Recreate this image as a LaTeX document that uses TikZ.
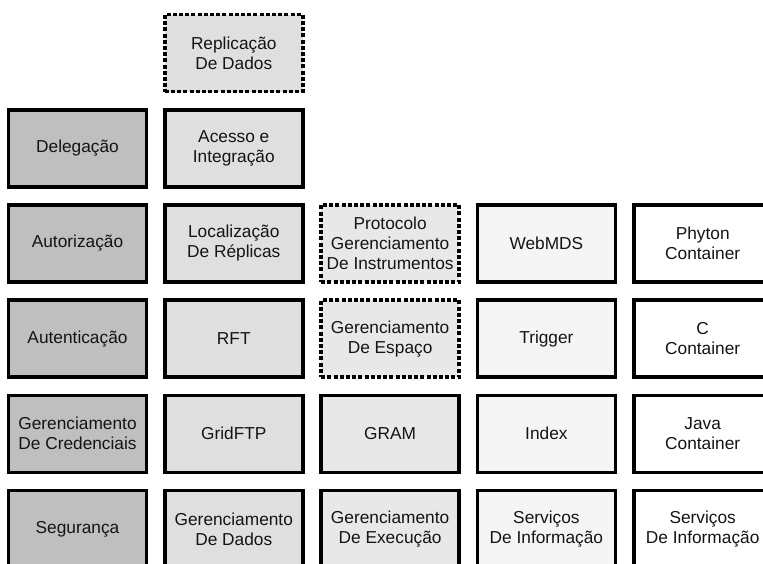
\documentclass[tikz,border=0pt]{standalone}
\usepackage{fontspec}
\setmainfont{Liberation Sans}
\definecolor{secgray}{gray}{0.75}
\definecolor{datagray}{gray}{0.875}
\definecolor{execgray}{gray}{0.91}
\definecolor{infogray}{gray}{0.96}
\begin{document}
\begin{tikzpicture}[x=1pt,y=-1pt,
  box/.style={draw=black, line width=3.6pt, rectangle, inner sep=0pt,
    minimum width=138pt, minimum height=77pt, align=center,
    text=black!92, font=\fontsize{17.3pt}{20pt}\selectfont},
  dotbox/.style={box, dash pattern=on 4pt off 2.2pt},
  seccol/.style={fill=secgray},
  datacol/.style={fill=datagray},
  execcol/.style={fill=execgray},
  infocol/.style={fill=infogray},
  contcol/.style={fill=white}]
\clip (0,0) rectangle (763,563);
\fill[white] (0,0) rectangle (763,563);
% column centres: 77.5, 233.8, 390.1, 546.4, 702.7
% row centres: 53, 148.2, 243.4, 338.6, 433.8, 529
\node[dotbox, datacol] (repl) at (233.8,53) {Replicação\\De Dados};
\node[box, seccol] (deleg) at (77.5,148.2) {Delegação};
\node[box, datacol] (acesso) at (233.8,148.2) {Acesso e\\Integração};
\node[box, seccol] (autoriz) at (77.5,243.4) {Autorização};
\node[box, datacol] (local) at (233.8,243.4) {Localização\\De Réplicas};
\node[dotbox, execcol] (protocolo) at (390.1,243.4) {Protocolo\\Gerenciamento\\De Instrumentos};
\node[box, infocol] (webmds) at (546.4,243.4) {WebMDS};
\node[box, contcol] (phyton) at (702.7,243.4) {Phyton\\Container};
\node[box, seccol] (autent) at (77.5,338.6) {Autenticação};
\node[box, datacol] (rft) at (233.8,338.6) {RFT};
\node[dotbox, execcol] (espaco) at (390.1,338.6) {Gerenciamento\\De Espaço};
\node[box, infocol] (trigger) at (546.4,338.6) {Trigger};
\node[box, contcol] (ccont) at (702.7,338.6) {C\\Container};
\node[box, seccol] (cred) at (77.5,433.8) {Gerenciamento\\De Credenciais};
\node[box, datacol] (gridftp) at (233.8,433.8) {GridFTP};
\node[box, execcol] (gram) at (390.1,433.8) {GRAM};
\node[box, infocol] (index) at (546.4,433.8) {Index};
\node[box, contcol] (java) at (702.7,433.8) {Java\\Container};
\node[box, seccol] (seg) at (77.5,529) {Segurança};
\node[box, datacol] (dados) at (233.8,529) {Gerenciamento\\De Dados};
\node[box, execcol] (exec) at (390.1,529) {Gerenciamento\\De Execução};
\node[box, infocol] (info) at (546.4,529) {Serviços\\De Informação};
\node[box, contcol] (infoc) at (702.7,529) {Serviços\\De Informação};
\end{tikzpicture}
\end{document}
